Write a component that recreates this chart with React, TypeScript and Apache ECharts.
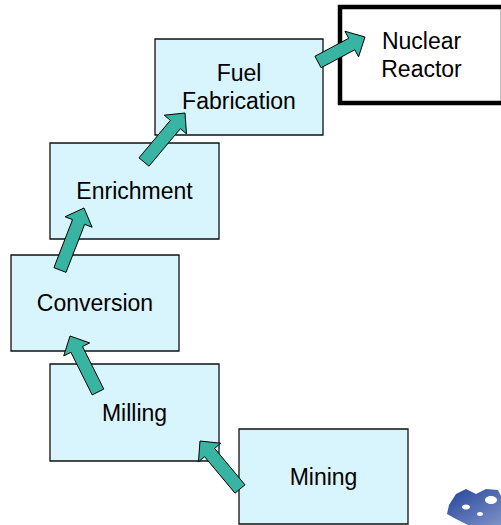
import React, { useEffect, useRef } from "react";
import * as echarts from "echarts";

// Stage labels (bottom to top of the fuel cycle)
const stages: string[][] = [
  ["Mining"],
  ["Milling"],
  ["Conversion"],
  ["Enrichment"],
  ["Fuel", "Fabrication"],
  ["Nuclear", "Reactor"],
];

// Layout of each stage box: [left, top, right, bottom]
const boxLayout: number[][] = [
  [239, 429, 408, 524],
  [50, 364, 219, 461],
  [11, 255, 179, 351],
  [50, 143, 219, 239],
  [155, 39, 323, 135],
  [340, 7, 503, 103],
];

// Arrows between consecutive stages: [tailX, tailY, tipX, tipY]
const arrowLayout: number[][] = [
  [240, 489, 200, 441],
  [98, 392, 70, 336],
  [60, 270, 84, 208],
  [144, 162, 185, 113],
  [318, 62, 365, 37],
];

const BOX_FILL = "#D8F4FD";
const ARROW_FILL = "#38B4A2";

function arrowPoints(a: number[]): number[][] {
  const [tx, ty, hx, hy] = a;
  const dx = hx - tx;
  const dy = hy - ty;
  const len = Math.sqrt(dx * dx + dy * dy);
  const ux = dx / len;
  const uy = dy / len;
  const nx = -uy;
  const ny = ux;
  const sw = 13 / 2;
  const hw = 29 / 2;
  const hl = 15;
  const kx = hx - ux * hl;
  const ky = hy - uy * hl;
  return [
    [tx + nx * sw, ty + ny * sw],
    [kx + nx * sw, ky + ny * sw],
    [kx + nx * hw, ky + ny * hw],
    [hx, hy],
    [kx - nx * hw, ky - ny * hw],
    [kx - nx * sw, ky - ny * sw],
    [tx - nx * sw, ty - ny * sw],
  ];
}

export default function App() {
  const ref = useRef<HTMLDivElement>(null);
  useEffect(() => {
    if (!ref.current) return;
    const chart = echarts.init(ref.current, undefined, { renderer: "svg" });
    const elements: any[] = [];
    stages.forEach((lines, i) => {
      const [l, t, r, b] = boxLayout[i];
      const isReactor = i === stages.length - 1;
      elements.push({
        type: "rect",
        shape: { x: l, y: t, width: r - l, height: b - t },
        style: {
          fill: isReactor ? "#ffffff" : BOX_FILL,
          stroke: isReactor ? "#000000" : "#111111",
          lineWidth: isReactor ? 4.5 : 1.3,
        },
        z: 1,
      });
      const cx = (l + r) / 2;
      const cy = (t + b) / 2;
      const lh = 28;
      lines.forEach((txt, j) => {
        elements.push({
          type: "text",
          x: cx,
          y: cy + (j - (lines.length - 1) / 2) * lh,
          style: {
            text: txt,
            fill: "#000000",
            font: '23px "Liberation Sans", Arial, sans-serif',
            align: "center",
            verticalAlign: "middle",
          },
          z: 2,
        });
      });
    });
    arrowLayout.forEach((a) => {
      elements.push({
        type: "polygon",
        shape: { points: arrowPoints(a) },
        style: { fill: ARROW_FILL, stroke: "#000000", lineWidth: 1 },
        z: 3,
      });
    });
    // small logo in the bottom-right corner
    elements.push(
      {
        type: "polygon",
        shape: {
          points: [
            [449, 505], [456, 494], [466, 489], [476, 494], [486, 489],
            [498, 490], [503, 500], [503, 525], [468, 525], [456, 519],
            [447, 514],
          ],
        },
        style: {
          fill: new echarts.graphic.LinearGradient(0, 0, 1, 1, [
            { offset: 0, color: "#24449a" },
            { offset: 1, color: "#7f93c8" },
          ]),
        },
        z: 4,
      },
      {
        type: "ellipse",
        shape: { cx: 466, cy: 507, rx: 4, ry: 2.5 },
        style: { fill: "#ffffff" },
        z: 5,
      },
      {
        type: "ellipse",
        shape: { cx: 491, cy: 500, rx: 6, ry: 4 },
        style: { fill: "#ffffff" },
        z: 5,
      },
      {
        type: "ellipse",
        shape: { cx: 480, cy: 514, rx: 3, ry: 2 },
        style: { fill: "#ffffff" },
        z: 5,
      }
    );
    chart.setOption({
      animation: false,
      graphic: { elements },
    });
    return () => chart.dispose();
  }, []);
  return (
    <div
      ref={ref}
      style={{ position: "absolute", left: 0, top: 0, width: 501, height: 525 }}
    />
  );
}
